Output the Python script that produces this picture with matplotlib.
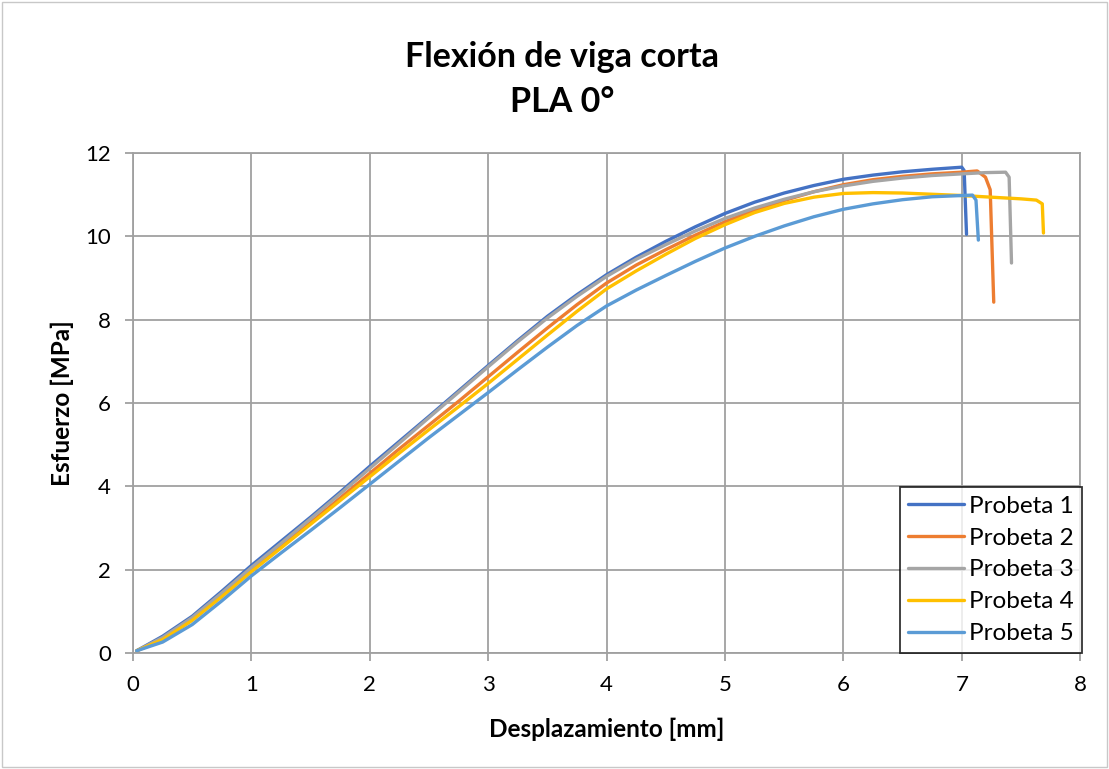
import matplotlib
matplotlib.use("Agg")
import matplotlib.pyplot as plt
from matplotlib.patches import Rectangle

# desplazamiento [mm] sample positions (shared up to 7 mm)
x_base = [0.03, 0.25, 0.5, 0.75, 1.0, 1.25, 1.5, 1.75, 2.0, 2.25, 2.5, 2.75, 3.0, 3.25, 3.5,
          3.75, 4.0, 4.25, 4.5, 4.75, 5.0, 5.25, 5.5, 5.75, 6.0, 6.25, 6.5, 6.75, 7.0]

# esfuerzo [MPa] per probeta, plus the failure tail of each one
x1 = x_base + [7.02, 7.04]
y1 = [0.05, 0.40, 0.88, 1.48, 2.10, 2.68, 3.26, 3.86, 4.48, 5.08, 5.68, 6.29, 6.90, 7.50, 8.08,
      8.60, 9.08, 9.50, 9.88, 10.23, 10.55, 10.82, 11.04, 11.22, 11.37, 11.47, 11.55, 11.61, 11.66,
      11.58, 10.05]

x2 = x_base + [7.13, 7.2, 7.24, 7.27]
y2 = [0.05, 0.33, 0.80, 1.38, 1.98, 2.55, 3.13, 3.72, 4.31, 4.90, 5.47, 6.04, 6.63, 7.22, 7.80,
      8.36, 8.88, 9.31, 9.68, 10.03, 10.35, 10.63, 10.86, 11.07, 11.24, 11.36, 11.44, 11.50, 11.54,
      11.57, 11.42, 11.12, 8.42]

x3 = x_base + [7.2, 7.37, 7.4, 7.42]
y3 = [0.05, 0.37, 0.85, 1.44, 2.05, 2.63, 3.22, 3.82, 4.43, 5.04, 5.65, 6.26, 6.87, 7.47, 8.04,
      8.56, 9.04, 9.45, 9.80, 10.13, 10.43, 10.68, 10.89, 11.07, 11.21, 11.32, 11.40, 11.46, 11.50,
      11.53, 11.54, 11.42, 9.36]

x4 = x_base + [7.25, 7.5, 7.63, 7.68, 7.69]
y4 = [0.05, 0.32, 0.78, 1.35, 1.95, 2.52, 3.09, 3.66, 4.23, 4.80, 5.36, 5.91, 6.47, 7.05, 7.63,
      8.20, 8.74, 9.17, 9.57, 9.95, 10.28, 10.57, 10.79, 10.94, 11.03, 11.05, 11.04, 11.01, 10.98,
      10.94, 10.90, 10.87, 10.78, 10.08]

x5 = x_base + [7.09, 7.12, 7.14]
y5 = [0.05, 0.26, 0.68, 1.25, 1.85, 2.40, 2.94, 3.49, 4.05, 4.61, 5.17, 5.71, 6.25, 6.80, 7.34,
      7.86, 8.33, 8.71, 9.06, 9.40, 9.72, 10.00, 10.25, 10.47, 10.65, 10.78, 10.88, 10.95, 10.98,
      10.99, 10.87, 9.91]

names = ["Probeta 1", "Probeta 2", "Probeta 3", "Probeta 4", "Probeta 5"]
colors = ["#4472C4", "#ED7D31", "#A5A5A5", "#FFC000", "#5B9BD5"]

plt.rcParams["font.family"] = ["Lato", "DejaVu Sans"]

fig = plt.figure(figsize=(11.09, 7.69), dpi=100)
ax = fig.add_axes([0.12, 0.151, 0.854, 0.65])

series = [(x1, y1), (x2, y2), (x3, y3), (x4, y4), (x5, y5)]
for (xs, ys), name, c in zip(series, names, colors):
    ax.plot(xs, ys, color=c, lw=2.4, label=name, solid_joinstyle="round", solid_capstyle="round")

ax.set_xlim(0, 8)
ax.set_ylim(0, 12)
ax.set_xticks(range(0, 9))
ax.set_yticks(range(0, 13, 2))
ax.grid(True, color="#A0A0A0", lw=1.3)
ax.set_axisbelow(True)
for s in ax.spines.values():
    s.set_color("#A0A0A0")
    s.set_linewidth(1.3)
ax.tick_params(axis="both", colors="#A0A0A0", length=6, width=1.3, labelsize=16,
               labelcolor="black", direction="out", pad=10)

ax.set_xlabel("Desplazamiento [mm]", fontsize=17.5, fontweight="bold", labelpad=16)
ax.set_ylabel("Esfuerzo [MPa]", fontsize=17.5, fontweight="bold", labelpad=8)

fig.text(0.507, 0.926, "Flexión de viga corta", ha="center", va="center",
         fontsize=24.5, fontweight="bold")
fig.text(0.507, 0.867, "PLA 0°", ha="center", va="center",
         fontsize=24.5, fontweight="bold")

leg = ax.legend(loc="lower right", bbox_to_anchor=(1.002, 0.0), fontsize=17.5,
                frameon=True, fancybox=False, edgecolor="black", handlelength=2.3,
                handletextpad=0.2, borderaxespad=0.0, labelspacing=0.45, borderpad=0.35)
leg.get_frame().set_linewidth(1.3)

fig.patches.append(Rectangle((0.002, 0.002), 0.996, 0.996, transform=fig.transFigure,
                             fill=False, edgecolor="#C8C8C8", lw=1))

fig.savefig("out.png", dpi=100)
